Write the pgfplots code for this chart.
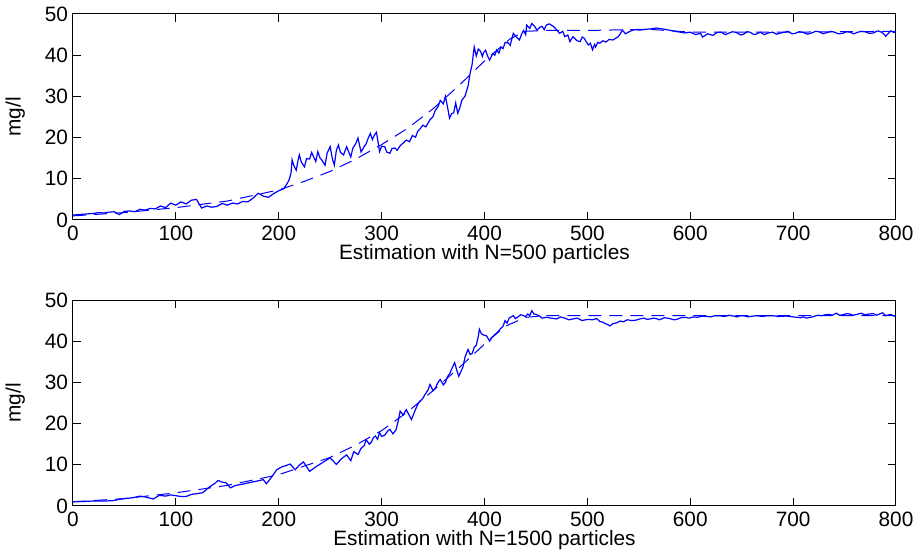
\documentclass[border=0pt]{standalone}
\usepackage{fontspec}
\setmainfont{Liberation Sans}
\usepackage{pgfplots}
\pgfplotsset{compat=1.18}

\pgfplotsset{
  mlab/.style={
    scale only axis,
    width=411.5pt, height=103pt,
    xmin=0, xmax=800, ymin=0, ymax=50,
    xtick={0,100,...,800}, ytick={0,10,...,50},
    tick align=inside,
    major tick length=4pt,
    axis line style={line width=0.5pt},
    tick style={line width=0.5pt, black},
    every tick label/.append style={font=\fontsize{10.4}{11}\selectfont},
    xticklabel style={yshift=0.5pt},
    yticklabel style={xshift=1pt},
    /pgf/number format/assume math mode=true,
    label style={font=\fontsize{10.4}{11}\selectfont},
    xlabel style={yshift=5pt},
    ylabel style={yshift=3pt},
    ylabel={mg/l},
    clip=true,
  },
  est/.style={blue, line width=0.6pt},
  tru/.style={blue, line width=0.5pt, dash pattern=on 6.5pt off 4pt},
}

\begin{document}
\begin{tikzpicture}
\path[use as bounding box] (0,0) rectangle (459pt,278.5pt);

% top: N=500
\begin{axis}[mlab, at={(36.5pt,168.5pt)}, anchor=south west,
  xlabel={Estimation with N=500 particles}]
\addplot[est] coordinates {
(0,1.2) (5,1.3) (10,1.4) (15,1.5) (20,1.6) (25,1.8) (30,1.7) (35,1.9) (40,2.0) (45,1.3)
(50,2.1) (55,2.2) (60,2.0) (65,2.6) (70,2.4) (75,2.8) (80,2.7) (85,3.4) (90,3.0) (95,4.1)
(100,3.6) (105,4.4) (110,3.9) (115,4.8) (120,5.0) (125,2.9) (130,3.4) (135,3.1) (140,3.3) (145,4.0)
(150,3.6) (155,4.1) (160,3.9) (165,4.5) (170,4.4) (175,5.3) (180,6.5) (185,5.8) (190,5.5) (195,6.4)
(200,7.1) (205,7.6) (208,8.8) (210,9.7) (212,11.5) (213,14.6) (215,13.0) (217,12.1) (219,14.8) (220,15.8)
(222,14.0) (225,12.9) (227,14.9) (230,14.8) (232,16.4) (233,15.8) (236,14.2) (238,16.6) (240,15.1) (242,14.5)
(245,13.3) (247,16.2) (250,17.8) (252,15.0) (254,13.3) (256,16.9) (258,18.2) (260,16.4) (263,15.8) (266,17.8)
(268,16.5) (270,15.3) (272,17.4) (275,18.6) (277,19.9) (280,16.5) (283,17.8) (285,18.5) (287,19.9) (289,21.0)
(291,19.5) (293,20.6) (295,21.3) (298,16.6) (300,17.9) (303,17.8) (305,16.5) (308,16.2) (310,17.3) (313,17.5)
(315,16.9) (318,18.0) (321,18.7) (324,19.4) (327,19.0) (330,20.5) (333,20.1) (335,21.5) (338,22.3) (340,23.0)
(343,22.6) (347,24.3) (350,25.1) (352,26.5) (355,27.6) (357,29.0) (360,28.2) (362,30.0) (364,27.5) (366,24.7)
(368,25.8) (370,26.0) (372,28.4) (374,25.9) (376,27.2) (378,29.1) (381,30.0) (384,32.5) (386,35.6) (388,37.8)
(390,42.0) (392,39.8) (394,41.5) (396,41.0) (398,39.7) (399,40.6) (401,41.2) (403,39.8) (405,38.8) (408,40.4)
(410,40.0) (412,41.3) (414,40.5) (416,42.0) (418,41.6) (420,43.1) (423,43.0) (425,42.4) (428,45.3) (431,44.4)
(434,43.7) (436,45.1) (438,46.0) (440,45.0) (441,47.3) (444,46.5) (446,47.7) (449,46.9) (451,46.1) (454,46.8)
(456,47.0) (458,46.2) (460,47.3) (463,47.6) (467,47.0) (470,46.2) (473,45.3) (476,45.8) (478,44.5) (481,44.9)
(483,43.3) (486,44.5) (488,44.0) (490,43.5) (493,43.3) (495,44.4) (497,44.1) (499,43.2) (501,42.5) (503,42.9)
(505,41.3) (507,42.6) (508,42.0) (510,43.1) (512,42.9) (515,43.5) (518,43.2) (521,43.8) (525,43.7) (528,44.2)
(530,44.5) (532,45.2) (534,46.1) (537,45.2) (540,45.6) (545,46.2) (551,46.1) (557,46.3) (562,46.4) (567,46.6)
(575,46.3) (585,45.8) (595,45.4) (600,45.6) (605,45.0) (610,45.3) (612,44.4) (617,45.2) (622,44.8) (626,45.5)
(630,45.6) (634,45.0) (637,45.3) (641,45.7) (645,45.5) (649,44.9) (652,45.1) (655,45.7) (658,45.6) (662,45.0)
(665,45.2) (668,45.6) (672,45.0) (676,45.4) (680,45.6) (684,45.1) (688,45.4) (692,45.6) (695,45.8) (699,45.2)
(702,45.3) (706,45.7) (710,45.5) (714,45.1) (718,45.4) (722,45.8) (725,45.7) (729,45.2) (733,45.5) (737,45.8)
(740,45.6) (744,45.2) (748,45.3) (752,45.7) (755,45.6) (759,45.2) (762,45.5) (766,45.8) (770,45.7) (774,45.3)
(778,45.4) (782,45.9) (785,45.7) (788,45.2) (790,44.6) (793,45.4) (795,45.9) (798,45.5) (800,45.8)
};
\addplot[tru] coordinates {
(0,1.0) (50,1.8) (100,3.0) (150,4.6) (200,7.3) (225,9.4) (250,11.8) (275,14.8) (300,18.3)
(325,22.2) (350,27.0) (375,32.6) (400,38.6) (425,44.0) (440,45.8) (460,46.0) (500,46.0)
(560,46.3) (600,45.6) (700,45.6) (800,45.8)
};
\end{axis}

% bottom: N=1500
\begin{axis}[mlab, at={(36.5pt,25.5pt)}, anchor=south west,
  xlabel={Estimation with N=1500 particles}]
\addplot[est] coordinates {
(0,1.05) (10,1.1) (20,1.2) (30,1.2) (39,1.3) (45,1.6) (50,1.8) (55,1.9) (60,2.1) (65,2.4)
(70,2.2) (78,1.7) (84,2.6) (90,2.4) (95,2.7) (100,2.5) (105,2.3) (110,2.3) (115,2.8) (120,3.0)
(126,3.2) (133,4.7) (138,5.5) (141,6.2) (145,5.8) (149,5.6) (153,4.4) (158,5.0) (165,5.3) (172,5.7)
(178,6.0) (185,6.4) (188,5.4) (193,7.0) (198,8.8) (203,9.5) (207,9.8) (211,10.2) (216,8.8) (220,9.9)
(224,10.7) (230,8.4) (236,9.5) (243,10.6) (250,11.7) (256,10.1) (261,11.5) (266,12.4) (270,11.0) (273,13.2)
(277,12.5) (280,14.0) (283,14.6) (285,16.1) (288,15.0) (290,15.5) (292,16.6) (294,17.0) (296,16.2) (298,17.8)
(300,16.9) (303,17.2) (306,18.2) (308,18.6) (311,17.5) (314,18.5) (316,20.5) (318,23.0) (321,22.1) (324,23.4)
(326,22.4) (329,21.0) (331,22.2) (333,23.5) (335,24.6) (337,25.4) (340,26.1) (342,27.0) (345,28.1) (347,29.5)
(350,28.0) (352,28.5) (355,30.1) (357,30.7) (360,29.4) (362,30.0) (364,31.4) (366,32.0) (368,33.2) (371,34.8)
(373,33.0) (375,31.5) (377,32.6) (379,33.7) (381,36.1) (384,38.0) (386,36.8) (388,37.0) (390,38.5) (392,39.0)
(394,41.2) (395,42.9) (397,41.8) (399,41.5) (402,41.3) (405,40.0) (407,40.9) (408,41.1) (410,41.6) (412,42.0)
(414,42.5) (415,42.9) (418,43.6) (420,45.0) (422,44.4) (424,45.6) (426,45.9) (428,46.2) (430,45.5) (432,45.8)
(435,46.4) (437,46.3) (440,46.0) (442,46.6) (444,46.2) (446,47.4) (448,46.6) (450,46.5) (453,46.2) (456,45.6)
(460,45.8) (465,45.6) (470,45.4) (474,45.9) (478,45.6) (482,45.2) (486,45.4) (490,45.6) (495,45.0) (500,45.3)
(505,45.2) (509,45.5) (512,44.8) (515,44.6) (518,44.2) (520,44.0) (522,43.7) (525,44.3) (528,44.4) (532,44.9)
(535,44.7) (539,45.2) (543,45.0) (547,45.1) (551,45.4) (555,45.6) (558,45.3) (561,45.4) (564,45.6) (567,45.5)
(570,45.2) (575,45.7) (580,45.5) (584,45.2) (587,45.3) (591,45.7) (595,45.8) (599,45.6) (603,45.9) (607,45.8)
(612,46.1) (616,46.0) (620,45.9) (624,46.2) (628,46.2) (633,46.0) (638,46.3) (642,46.1) (645,45.9) (649,46.2)
(652,46.2) (656,45.9) (661,46.1) (665,46.2) (670,46.0) (675,46.2) (680,46.2) (686,46.0) (693,46.1) (697,46.0)
(700,45.9) (704,45.8) (707,45.7) (710,45.9) (713,45.6) (717,45.8) (720,46.0) (724,46.3) (728,46.2) (731,46.4)
(735,46.5) (738,46.3) (742,46.8) (745,46.3) (748,46.4) (752,46.7) (755,46.6) (758,46.3) (762,46.5) (766,46.8)
(770,46.4) (774,46.6) (778,46.7) (781,46.3) (784,46.6) (787,46.9) (790,46.2) (793,46.4) (795,46.5) (798,46.1)
(800,46.2)
};
\addplot[tru] coordinates {
(0,1.0) (50,1.8) (100,3.2) (150,5.0) (200,7.6) (250,11.8) (275,14.8) (300,18.3) (325,22.8)
(350,28.0) (375,33.5) (400,39.3) (420,43.6) (440,45.8) (460,46.2) (800,46.2)
};
\end{axis}
\end{tikzpicture}
\end{document}
